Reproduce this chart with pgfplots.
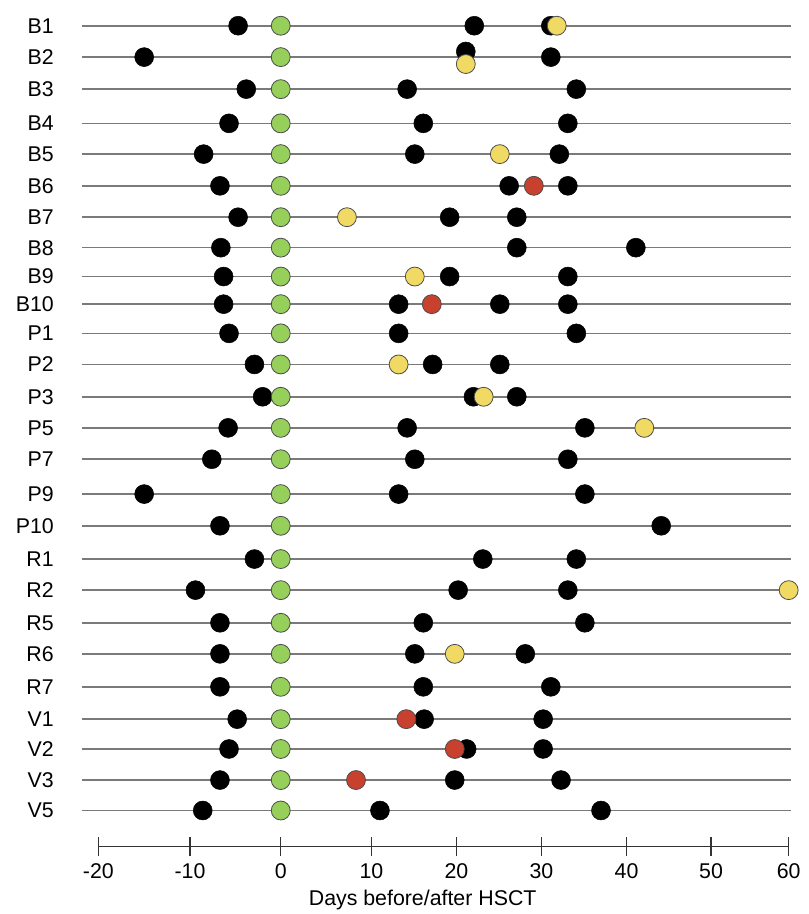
\documentclass[border=0pt]{standalone}
\usepackage{fontspec}
\setmainfont{Liberation Sans}
\usepackage{pgfplots}
\usepackage{pgfplotstable}
\pgfplotsset{compat=1.18}

\definecolor{dotgreen}{HTML}{96CF5A}
\definecolor{dotyellow}{HTML}{F0DA64}
\definecolor{dotred}{HTML}{C8412F}
\definecolor{rowline}{HTML}{7A7A7A}
\definecolor{axisgray}{HTML}{333333}

% Sampling days relative to HSCT (day) and the patient row (row position)
\pgfplotstableread{
day   row
-4.7  25.00
22.1  25.00
31.1  25.00
-15.0 24.00
21.1  24.18
31.1  24.00
-3.8  22.98
14.2  22.98
34.1  22.98
-5.7  21.89
16.1  21.89
33.1  21.89
-8.5  20.91
15.1  20.91
32.1  20.91
-6.7  19.90
26.2  19.90
33.1  19.90
-4.7  18.90
19.2  18.90
27.1  18.90
-6.6  17.93
27.1  17.93
41.1  17.93
-6.3  17.01
19.2  17.01
33.1  17.01
-6.3  16.13
13.2  16.13
25.1  16.13
33.1  16.13
-5.7  15.20
13.2  15.20
34.1  15.20
-2.9  14.21
17.2  14.21
25.1  14.21
-2.0  13.18
22.0  13.18
27.1  13.18
-5.8  12.19
14.2  12.19
35.1  12.19
-7.6  11.19
15.1  11.19
33.1  11.19
-15.0 10.08
13.2  10.08
35.1  10.08
-6.7  9.07
44.1  9.07
-2.9  8.01
23.1  8.01
34.1  8.01
-9.4  7.02
20.2  7.02
33.1  7.02
-6.7  5.98
16.1  5.98
35.1  5.98
-6.7  4.99
15.1  4.99
28.1  4.99
-6.7  3.94
16.1  3.94
31.1  3.94
-4.8  2.91
16.2  2.91
30.2  2.91
-5.7  1.96
21.2  1.96
30.2  1.96
-6.7  0.97
19.8  0.97
32.3  0.97
-8.6  0.00
11.0  0.00
37.0  0.00
}\blackpts

\pgfplotstableread{
day   row
31.8  25.00
21.1  23.78
25.1  20.91
7.3   18.90
15.1  17.01
13.2  14.21
23.2  13.18
42.1  12.19
60.0  7.02
19.8  4.99
}\yellowpts

\pgfplotstableread{
day   row
29.1  19.90
17.1  16.13
14.1  2.91
19.8  1.96
8.3   0.97
}\redpts

\pgfplotstableread{
day row
0   25.00
0   24.00
0   22.98
0   21.89
0   20.91
0   19.90
0   18.90
0   17.93
0   17.01
0   16.13
0   15.20
0   14.21
0   13.18
0   12.19
0   11.19
0   10.08
0   9.07
0   8.01
0   7.02
0   5.98
0   4.99
0   3.94
0   2.91
0   1.96
0   0.97
0   0.00
}\greenpts

\begin{document}
\begin{tikzpicture}
\useasboundingbox (-61.5pt,-50.475pt) rectangle (544.5pt,635.025pt);
\begin{axis}[
  scale only axis,
  width=531.75pt, height=629.85pt,
  clip=false,
  % piecewise day scale of the time axis
  x coord trafo/.code={\pgfmathparse{((#1)<-10) ? (98.3+9.17*((#1)+20)) : (((#1)<0) ? (190+9.07*((#1)+10)) : (((#1)<10) ? (280.7+9.07*(#1)) : (((#1)<20) ? (371.4+8.5*((#1)-10)) : (((#1)<30) ? (456.4+8.5*((#1)-20)) : (((#1)<40) ? (541.4+8.51*((#1)-30)) : (((#1)<50) ? (626.5+8.45*((#1)-40)) : (711+7.76*((#1)-50))))))))}},
  xmin=-21.78, xmax=60.3,
  ymin=-1.153, ymax=25.6,
  axis line style={draw=none},
  xtick={-20,-10,0,10,20,30,40,50,60},
  xticklabels={-20,-10,0,10,20,30,40,50,60},
  xtick pos=bottom,
  tick align=center,
  major tick length=14pt,
  xtick style={line width=1.1pt, color=axisgray},
  ytick={0,0.97,1.96,2.91,3.94,4.99,5.98,7.02,8.01,9.07,10.08,11.19,12.19,13.18,14.21,15.20,16.13,17.01,17.93,18.90,19.90,20.91,21.89,22.98,24.00,25.00},
  yticklabels={V5,V3,V2,V1,R7,R6,R5,R2,R1,P10,P9,P7,P5,P3,P2,P1,B10,B9,B8,B7,B6,B5,B4,B3,B2,B1},
  ytick pos=left,
  ytick style={draw=none},
  ymajorgrids,
  major grid style={line width=1.2pt, color=rowline},
  tick label style={font=\fontsize{16}{19}\selectfont, text=black},
  xticklabel style={anchor=north, inner sep=0pt, yshift=-5.4pt},
  yticklabel style={anchor=east, inner sep=0pt, xshift=-14pt},
  xlabel={Days before/after HSCT},
  xlabel style={font=\fontsize{16}{19}\selectfont, at={(axis description cs:0.4805,0)}, anchor=north, inner sep=0pt, yshift=-32.5pt},
]
\addplot[only marks, mark=*, mark size=7.1pt, mark options={fill=black, draw=black}]
  table[x=day, y=row] {\blackpts};
\addplot[only marks, mark=*, mark size=7.1pt, mark options={fill=dotyellow, draw=black!70, line width=0.6pt}]
  table[x=day, y=row] {\yellowpts};
\addplot[only marks, mark=*, mark size=7.1pt, mark options={fill=dotred, draw=black!70, line width=0.6pt}]
  table[x=day, y=row] {\redpts};
\addplot[only marks, mark=*, mark size=7.1pt, mark options={fill=dotgreen, draw=black!70, line width=0.6pt}]
  table[x=day, y=row] {\greenpts};
% time axis line spanning the labelled range
\draw[line width=1.1pt, color=axisgray] (axis cs:-20,-1.153) -- (axis cs:60,-1.153);
\end{axis}
\end{tikzpicture}
\end{document}
